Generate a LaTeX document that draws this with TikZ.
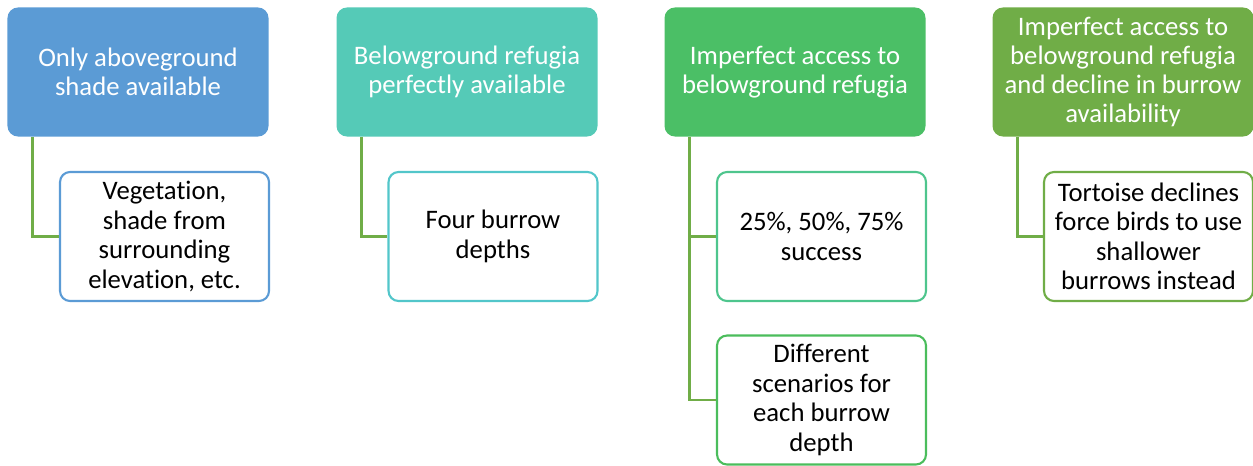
\documentclass[tikz,border=0pt]{standalone}
\usepackage{fontspec}
\setmainfont{Carlito}[Ligatures=NoCommon]
\usetikzlibrary{positioning}
\definecolor{skyblue}{HTML}{5B9BD5}
\definecolor{teal1}{HTML}{55CAB7}
\definecolor{teal2}{HTML}{52C6CA}
\definecolor{green1}{HTML}{4BBF66}
\definecolor{green2}{HTML}{4EC58D}
\definecolor{green3}{HTML}{4BBD5C}
\definecolor{olive}{HTML}{70AD47}

\begin{document}
\begin{tikzpicture}[x=0.02cm,y=-0.02cm,
  scenario/.style={rounded corners=0.2cm,draw=#1,fill=#1,line width=0.6pt,
    minimum width=5.2cm,minimum height=2.56cm,align=center,inner sep=2pt,
    text=white,font=\fontsize{15.2}{16.6}\selectfont},
  detail/.style={rounded corners=0.2cm,draw=#1,fill=white,line width=1.2pt,
    minimum width=4.18cm,minimum height=2.58cm,align=center,inner sep=2pt,
    text=black,font=\fontsize{15.2}{16.8}\selectfont},
  link/.style={draw=olive,line width=1.4pt}
]
\useasboundingbox (0,0) rectangle (1253,466);
\node[scenario=skyblue] (shade) at (138,72) {Only aboveground\\shade available};
\node[scenario=teal1] (perfect) at (467,72) {Belowground refugia\\perfectly available};
\node[scenario=green1] (imperfect) at (795,72) {Imperfect access to\\belowground refugia};
\node[scenario=olive] (decline) at (1123,72)
  {Imperfect access to\\belowground refugia\\and decline in burrow\\availability};
\node[detail=skyblue] (veg) at (164.5,236.5)
  {Vegetation,\\shade from\\surrounding\\elevation, etc.};
\node[detail=teal2] (depths) at (493,236.5) {Four burrow\\depths};
\node[detail=green2] (success) at (821.5,236.5) {25\%, 50\%, 75\%\\success};
\node[detail=green3] (scen) at (821.5,400)
  {Different\\scenarios for\\each burrow\\depth};
\node[detail=olive] (tortoise) at (1148.5,236.5)
  {Tortoise declines\\force birds to use\\shallower\\burrows instead};
\draw[link] ([xshift=0.5cm]shade.south west) |- (veg.west);
\draw[link] ([xshift=0.5cm]perfect.south west) |- (depths.west);
\draw[link] ([xshift=0.5cm]imperfect.south west) |- (success.west);
\draw[link] ([xshift=0.5cm]imperfect.south west) |- (scen.west);
\draw[link] ([xshift=0.5cm]decline.south west) |- (tortoise.west);
\end{tikzpicture}
\end{document}
